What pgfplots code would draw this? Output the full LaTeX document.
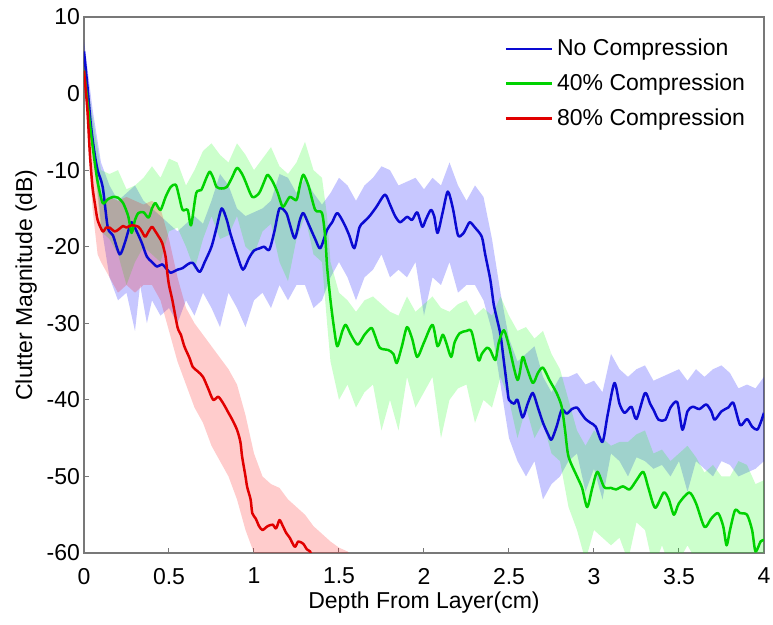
\documentclass[border=0pt]{standalone}
\usepackage{fontspec}
\setmainfont{Liberation Sans}
\usepackage{pgfplots}
\pgfplotsset{compat=1.18}
\usepgfplotslibrary{fillbetween}

\definecolor{lblue}{RGB}{10,10,210}
\definecolor{lgreen}{RGB}{0,210,0}
\definecolor{lred}{RGB}{225,0,0}
\definecolor{axgray}{RGB}{120,120,120}

\begin{document}
\begin{tikzpicture}
\begin{axis}[
    at={(0,0)}, anchor=south west,
    scale only axis, width=340pt, height=268pt,
    xmin=0, xmax=4, ymin=-60, ymax=10,
    xtick={0,0.5,1,1.5,2,2.5,3,3.5,4},
    xticklabels={0,0.5,1,1.5,2,2.5,3,3.5,4},
    ytick={-60,-50,-40,-30,-20,-10,0,10},
    yticklabels={-60,-50,-40,-30,-20,-10,0,10},
    xtick pos=left, ytick pos=left,
    tick align=inside, major tick length=2.5pt,
    tick style={axgray, line width=0.5pt},
    axis line style={axgray, line width=0.6pt},
    tick label style={font=\fontsize{11.5}{13}\selectfont},
    xticklabel style={yshift=-4pt},
    yticklabel style={xshift=1.5pt},
    label style={font=\fontsize{11.5}{13}\selectfont},
    xlabel={Depth From Layer(cm)},
    ylabel={Clutter Magnitude (dB)},
    xlabel style={yshift=3pt},
    ylabel style={yshift=-2pt},
    legend style={draw=none, fill=none, at={(0.618,0.967)}, anchor=north west,
        font=\fontsize{11.5}{13}\selectfont, row sep=3.5pt, inner sep=0pt,
        nodes={inner xsep=2pt}},
    legend cell align=left,
    legend image code/.code={\draw[#1] (0pt,0pt) -- (23pt,0pt);},
    every axis plot/.append style={line width=1.25pt, line join=round},
]
% ---- bands: No Compression
\addplot[name path=bu, draw=none, forget plot] coordinates {
(0,7)(0.05,-2)(0.1,-9)(0.15,-12)(0.2,-14)(0.25,-13)(0.3,-12)(0.35,-14)(0.4,-15)(0.45,-16)
(0.5,-17)(0.55,-18)(0.6,-17)(0.65,-16)(0.7,-17)(0.75,-14)(0.8,-10.5)(0.85,-12)(0.9,-15)(0.95,-16)
(1.0,-15.5)(1.05,-15)(1.1,-14)(1.15,-10.5)(1.2,-11)(1.25,-13)(1.3,-11)(1.35,-13)(1.4,-14.5)(1.45,-13)
(1.5,-11)(1.55,-12)(1.6,-14)(1.65,-12)(1.7,-11)(1.75,-9.5)(1.8,-10)(1.85,-12)(1.9,-11.5)(1.95,-11)
(2.0,-12.5)(2.05,-11)(2.1,-12)(2.15,-9)(2.2,-12)(2.25,-14)(2.3,-12)(2.35,-13.5)(2.4,-19)(2.45,-26)
(2.5,-32)(2.55,-35)(2.6,-34)(2.65,-33)(2.7,-37)(2.75,-39)(2.8,-37)(2.85,-37)(2.9,-36.5)(2.95,-38)
(3.0,-37.5)(3.05,-39)(3.1,-34)(3.15,-36)(3.2,-37)(3.25,-36)(3.3,-35.5)(3.35,-37.5)(3.4,-37)(3.45,-36.5)
(3.5,-36)(3.55,-37.5)(3.6,-36)(3.65,-37)(3.7,-36)(3.75,-35.5)(3.8,-36.5)(3.85,-38.5)(3.9,-38)(3.95,-38.5)(4.0,-37)};
\addplot[name path=bl, draw=none, forget plot] coordinates {
(0,4)(0.05,-6)(0.1,-17)(0.15,-24)(0.2,-27)(0.25,-26)(0.3,-31)(0.33,-25)(0.37,-30)(0.4,-27)(0.45,-29)
(0.5,-28)(0.55,-30)(0.6,-27)(0.65,-29)(0.7,-26)(0.75,-28)(0.8,-30.5)(0.85,-26)(0.9,-28)(0.95,-30.5)
(1.0,-27)(1.05,-26)(1.1,-28)(1.15,-25)(1.2,-27)(1.25,-25)(1.3,-25)(1.35,-28)(1.4,-27)(1.45,-24)
(1.5,-22)(1.55,-24)(1.6,-27)(1.65,-24)(1.7,-23)(1.75,-21)(1.8,-24)(1.85,-23)(1.9,-24)(1.95,-22)
(2.0,-29)(2.05,-24)(2.1,-25)(2.15,-22)(2.2,-26)(2.25,-25)(2.3,-25)(2.35,-27)(2.4,-31)(2.45,-38)
(2.5,-45)(2.55,-48)(2.6,-50)(2.65,-48)(2.7,-53)(2.75,-51)(2.8,-50)(2.85,-48)(2.9,-47)(2.95,-52)
(3.0,-49)(3.05,-53)(3.1,-47)(3.15,-48)(3.2,-50)(3.25,-47.5)(3.3,-48)(3.35,-49)(3.4,-48.5)(3.45,-50)
(3.5,-48)(3.55,-52)(3.6,-48)(3.65,-49)(3.7,-50)(3.75,-48)(3.8,-48.5)(3.85,-50)(3.9,-49.5)(3.95,-49)(4.0,-48)};
\addplot[fill=blue, fill opacity=0.22, draw=none, forget plot] fill between[of=bu and bl];
% ---- bands: 40% Compression
\addplot[name path=gu, draw=none, forget plot] coordinates {
(0,4)(0.05,-3)(0.1,-10)(0.15,-10.5)(0.2,-10)(0.25,-12.5)(0.3,-12)(0.35,-11)(0.4,-9.5)(0.45,-11)
(0.5,-8.5)(0.55,-9)(0.6,-12)(0.65,-10)(0.7,-7.5)(0.75,-6.5)(0.8,-8)(0.85,-9)(0.9,-6.5)(0.95,-8)
(1.0,-10)(1.05,-8.5)(1.1,-7)(1.15,-9.5)(1.2,-10.5)(1.25,-9)(1.3,-6.3)(1.35,-10)(1.4,-11)(1.43,-16)
(1.45,-22)(1.5,-26)(1.55,-27)(1.6,-28.5)(1.65,-27)(1.7,-26.5)(1.75,-27.5)(1.8,-28.5)(1.85,-29)(1.9,-26.5)
(1.95,-28.5)(2.0,-27.5)(2.05,-26.5)(2.1,-28)(2.15,-28.5)(2.2,-27.5)(2.25,-27)(2.3,-29)(2.35,-28)(2.4,-29)
(2.45,-26.5)(2.5,-29)(2.55,-31)(2.6,-30.5)(2.65,-32)(2.7,-31)(2.75,-34)(2.8,-36)(2.85,-40)(2.9,-44)
(2.95,-46)(3.0,-44)(3.05,-45)(3.1,-46)(3.15,-45.5)(3.2,-45.5)(3.25,-44.5)(3.3,-44)(3.35,-47)(3.4,-46.5)
(3.45,-48)(3.5,-47)(3.55,-46)(3.6,-47.5)(3.65,-49.5)(3.7,-48.5)(3.75,-50)(3.8,-50)(3.85,-48)(3.9,-48.5)(3.95,-51)(4.0,-50.5)};
\addplot[name path=gl, draw=none, forget plot] coordinates {
(0,2)(0.05,-7)(0.1,-18)(0.15,-19)(0.2,-21)(0.25,-25)(0.3,-22)(0.35,-20)(0.4,-21)(0.45,-22)
(0.5,-18)(0.55,-17.5)(0.6,-20)(0.65,-23)(0.7,-19)(0.75,-16)(0.8,-19)(0.85,-18.5)(0.9,-16)(0.95,-20)
(1.0,-21)(1.05,-18)(1.1,-17)(1.15,-22)(1.2,-24.5)(1.25,-19)(1.3,-16)(1.35,-21)(1.4,-22)(1.43,-30)
(1.45,-35)(1.5,-40)(1.55,-38)(1.6,-41)(1.65,-39)(1.7,-38)(1.75,-44)(1.8,-40)(1.85,-44)(1.9,-37)
(1.95,-41)(2.0,-39)(2.05,-37)(2.1,-45)(2.15,-40)(2.2,-38.5)(2.25,-38)(2.3,-43)(2.35,-40)(2.4,-41)
(2.45,-37)(2.5,-40)(2.55,-45)(2.6,-41)(2.65,-45)(2.7,-43)(2.75,-47)(2.8,-48)(2.85,-54)(2.9,-57)
(2.95,-61)(3.0,-57)(3.05,-58)(3.1,-59)(3.15,-58)(3.2,-61)(3.25,-56)(3.3,-57)(3.35,-62)(3.4,-59)
(3.45,-62)(3.5,-61)(3.55,-59)(3.6,-61)(3.65,-63)(3.7,-62)(3.75,-63)(3.8,-65)(3.85,-62)(3.9,-62)(3.95,-66)(4.0,-65)};
\addplot[fill=green, fill opacity=0.2, draw=none, forget plot] fill between[of=gu and gl];
% ---- bands: 80% Compression
\addplot[name path=ru, draw=none, forget plot] coordinates {
(0,4)(0.05,-8)(0.08,-12)(0.1,-14)(0.15,-13.5)(0.2,-14)(0.25,-13.5)(0.3,-14)(0.35,-14.5)(0.4,-14)
(0.45,-15)(0.5,-19)(0.55,-24)(0.6,-28)(0.65,-30)(0.7,-31.5)(0.75,-33)(0.8,-34.5)(0.85,-36)(0.9,-38)
(0.95,-42)(1.0,-47)(1.05,-50)(1.1,-51)(1.15,-51.5)(1.2,-53)(1.25,-54)(1.3,-55)(1.35,-56.5)(1.4,-57.5)
(1.45,-58.5)(1.5,-59.3)(1.55,-59.8)(1.6,-61)};
\addplot[name path=rl, draw=none, forget plot] coordinates {
(0,2)(0.05,-15)(0.08,-21)(0.1,-22)(0.15,-24)(0.2,-26)(0.25,-25)(0.3,-26)(0.35,-25)(0.4,-25)
(0.45,-27)(0.5,-31)(0.55,-35)(0.6,-38)(0.65,-41)(0.7,-43)(0.75,-46)(0.8,-48)(0.85,-50)(0.9,-53)
(0.95,-57)(1.0,-60)(1.05,-62)(1.6,-65)};
\addplot[fill=red, fill opacity=0.2, draw=none, forget plot] fill between[of=ru and rl];
% ---- mean curves
\addplot[lblue, smooth, tension=0.45] coordinates {
(0,5.5)(0.02,1)(0.04,-4)(0.06,-7.5)(0.08,-10)(0.11,-12.2)(0.14,-17.5)(0.17,-18.5)(0.21,-21)(0.24,-19.5)
(0.26,-18)(0.28,-16.8)(0.31,-18)(0.34,-19.5)(0.37,-21.3)(0.40,-22)(0.43,-22.6)(0.46,-22.3)(0.49,-23)(0.51,-23.4)
(0.55,-23)(0.58,-22.8)(0.61,-22.3)(0.64,-22.1)(0.68,-23.3)(0.71,-22)(0.75,-20)(0.78,-17.5)(0.81,-15)(0.84,-16.5)
(0.86,-18.2)(0.9,-21)(0.935,-23)(0.97,-21.5)(1.0,-20.5)(1.035,-20.2)(1.06,-20)(1.09,-20.4)(1.12,-18)(1.15,-15)
(1.19,-15.6)(1.21,-17)(1.24,-18.9)(1.27,-16.5)(1.29,-15.6)(1.32,-17)(1.36,-19)(1.39,-20.2)(1.43,-17.8)(1.46,-16.8)
(1.49,-15.6)(1.53,-17)(1.56,-18.5)(1.59,-20.2)(1.62,-17.5)(1.64,-16.9)(1.68,-16)(1.72,-14.8)(1.77,-13.2)(1.8,-14.5)
(1.83,-16)(1.86,-16.8)(1.9,-16.1)(1.93,-16.5)(1.96,-15.5)(1.99,-17.4)(2.01,-16.5)(2.04,-15.2)(2.06,-16)(2.08,-18.2)
(2.11,-15.5)(2.14,-12.8)(2.17,-15)(2.2,-18.5)(2.23,-18.3)(2.25,-17.5)(2.27,-16.8)(2.3,-17.5)(2.34,-18.7)(2.36,-21)
(2.39,-24.3)(2.41,-27.5)(2.43,-29.5)(2.45,-31.5)(2.47,-35)(2.49,-38.5)(2.5,-40)(2.53,-40.5)(2.55,-40)(2.58,-42.3)
(2.61,-40.5)(2.64,-39.1)(2.67,-41)(2.7,-43)(2.73,-44.5)(2.75,-45.2)(2.78,-43.5)(2.81,-41.3)(2.84,-41.8)(2.87,-41.2)
(2.9,-41)(2.92,-41.6)(2.95,-42.5)(2.98,-43)(3.01,-43.5)(3.05,-45.5)(3.08,-42)(3.12,-37.8)(3.15,-40.5)(3.18,-41.7)
(3.22,-40.9)(3.25,-42.5)(3.3,-39.1)(3.33,-40.5)(3.35,-41.3)(3.38,-42.6)(3.42,-42.6)(3.45,-41)(3.49,-40.3)(3.52,-43.9)
(3.55,-41.5)(3.58,-40.9)(3.62,-41.2)(3.66,-40.6)(3.69,-41.5)(3.71,-42.6)(3.75,-41.5)(3.79,-41)(3.82,-40.4)(3.86,-43.3)
(3.9,-42.5)(3.93,-43.5)(3.96,-43.9)(3.98,-43)(4.0,-41.7)};
\addlegendentry{No Compression}
\addplot[lgreen, smooth, tension=0.45] coordinates {
(0,3)(0.02,-1)(0.04,-5)(0.06,-8.5)(0.08,-11.5)(0.11,-14.3)(0.14,-13.8)(0.17,-13.5)(0.2,-13.6)(0.23,-14.3)
(0.26,-16)(0.28,-18.2)(0.3,-16.5)(0.32,-15.6)(0.35,-15.5)(0.38,-16.2)(0.4,-15)(0.42,-14.3)(0.45,-15.2)(0.48,-13.5)
(0.51,-12.2)(0.54,-11.9)(0.56,-13.5)(0.58,-15.2)(0.61,-15.2)(0.63,-17.2)(0.66,-13)(0.69,-12.6)(0.72,-11)(0.74,-10.2)
(0.76,-11)(0.78,-12.2)(0.81,-12.4)(0.84,-12.2)(0.87,-11)(0.9,-9.7)(0.93,-10.5)(0.95,-11.5)(0.99,-13.5)(1.03,-13)
(1.06,-11.5)(1.08,-10.6)(1.11,-11.5)(1.14,-13)(1.17,-14.8)(1.21,-13.5)(1.25,-13.9)(1.27,-12)(1.29,-10.6)(1.32,-12)
(1.36,-15.2)(1.4,-15.6)(1.42,-19)(1.43,-22.6)(1.45,-27)(1.47,-30.5)(1.49,-33)(1.52,-31)(1.54,-30.2)(1.57,-31.5)
(1.61,-32.8)(1.65,-31.5)(1.69,-30.6)(1.71,-31.5)(1.74,-33.2)(1.79,-33.5)(1.82,-34)(1.84,-35.2)(1.87,-33)(1.9,-30.5)
(1.93,-32)(1.96,-34.4)(2.0,-32.5)(2.05,-30.2)(2.08,-33)(2.11,-31.5)(2.13,-32.5)(2.16,-34.4)(2.18,-32.5)(2.21,-31.3)
(2.25,-31)(2.28,-31.1)(2.32,-34.8)(2.34,-34)(2.37,-33.2)(2.39,-33.5)(2.42,-34.8)(2.44,-32.5)(2.47,-30.9)(2.5,-33)
(2.55,-37.4)(2.58,-34.4)(2.6,-35.5)(2.64,-37.8)(2.67,-36.5)(2.7,-35.8)(2.74,-37.5)(2.78,-39.1)(2.81,-40.9)(2.83,-44)
(2.85,-47.4)(2.9,-50)(2.93,-51.5)(2.96,-54)(2.99,-51.5)(3.02,-49.4)(3.06,-51.4)(3.1,-51.5)(3.13,-51.7)(3.17,-51.3)
(3.21,-51.7)(3.25,-50.5)(3.29,-49.4)(3.32,-51.5)(3.36,-54.1)(3.41,-52.1)(3.44,-53)(3.47,-55)(3.5,-53.5)(3.56,-52.1)
(3.6,-53.5)(3.65,-56.6)(3.69,-55.5)(3.73,-54.8)(3.76,-56.5)(3.78,-59)(3.8,-57)(3.83,-54.4)(3.86,-54.8)(3.9,-55)
(3.93,-57)(3.95,-59.8)(3.98,-58.5)(4.0,-58.3)};
\addlegendentry{40\% Compression}
\addplot[lred, smooth, tension=0.45] coordinates {
(0,3)(0.02,-2.1)(0.035,-8)(0.05,-12.2)(0.065,-14.5)(0.08,-16.5)(0.11,-18)(0.13,-17.5)(0.15,-17.5)(0.18,-18)
(0.2,-17.8)(0.23,-17.3)(0.25,-17.5)(0.28,-17.2)(0.32,-17.4)(0.34,-18)(0.36,-18.7)(0.38,-18)(0.4,-17.4)(0.42,-18)
(0.44,-18.7)(0.46,-19.5)(0.48,-21.3)(0.49,-23.4)(0.5,-25)(0.52,-27)(0.55,-30.5)(0.57,-31.5)(0.59,-33)(0.62,-34.5)
(0.64,-35.7)(0.67,-36.3)(0.7,-37)(0.73,-38.5)(0.76,-40)(0.79,-39.6)(0.82,-40.5)(0.85,-41.7)(0.87,-42.5)(0.9,-43.9)
(0.92,-45.5)(0.93,-47.4)(0.95,-50)(0.96,-51.4)(0.98,-53)(0.99,-54.8)(1.01,-55.5)(1.03,-56.5)(1.05,-57)(1.08,-56.5)
(1.11,-56.3)(1.13,-56.8)(1.15,-55.7)(1.17,-56.5)(1.19,-57.4)(1.21,-58)(1.24,-59.2)(1.26,-58.5)(1.29,-58.8)(1.31,-59.5)
(1.33,-59.8)(1.35,-61)(1.4,-62)};
\addlegendentry{80\% Compression}
\end{axis}
\pgfresetboundingbox
\useasboundingbox (-42pt,-36pt) rectangle (344.5pt,276.5pt);
\end{tikzpicture}
\end{document}
